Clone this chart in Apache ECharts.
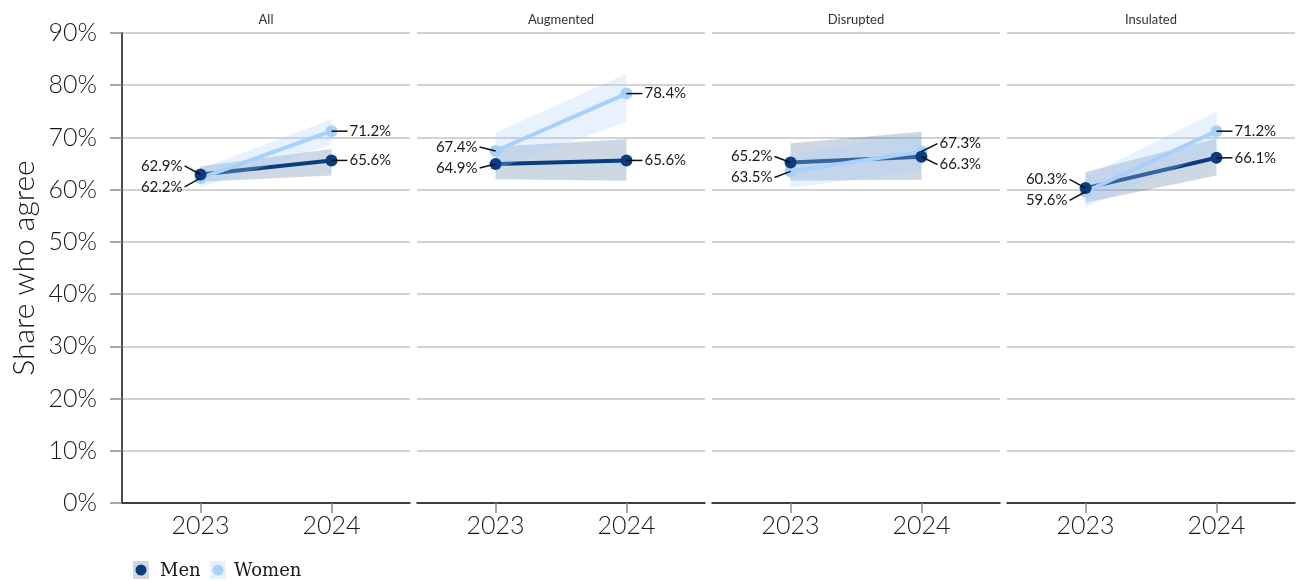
<!DOCTYPE html>
<html>
<head>
<meta charset="utf-8">
<title>Share who agree</title>
<script src="https://cdn.jsdelivr.net/npm/echarts@6/dist/echarts.min.js"></script>
<style>
  html, body { margin: 0; padding: 0; background: #fff; }
  #chart { width: 1296px; height: 581px; }
</style>
</head>
<body>
<div id="chart"></div>
<script>
// Panels and x categories
const categories = ['All', 'Augmented', 'Disrupted', 'Insulated'];
const years = ['2023', '2024'];

// Share who agree (%), one [2023, 2024] pair per panel
const menValues   = [[62.9, 65.6], [64.9, 65.6], [65.2, 66.3], [60.3, 66.1]];
const womenValues = [[62.2, 71.2], [67.4, 78.4], [63.5, 67.3], [59.6, 71.2]];

// Confidence bands, [2023, 2024] per panel
const menLow    = [[61.5, 62.7], [62.0, 61.7], [61.7, 61.9], [57.5, 62.7]];
const menHigh   = [[64.5, 67.8], [68.2, 69.7], [68.9, 71.1], [63.4, 69.8]];
const womenLow  = [[60.4, 68.6], [63.9, 73.0], [60.3, 63.7], [56.7, 67.5]];
const womenHigh = [[64.0, 73.5], [70.9, 82.2], [66.7, 70.9], [62.5, 74.9]];

// y axis ticks
const yMin = 0, yMax = 90, yStep = 10;

const MEN = '#0b3d7e';
const WOMEN = '#a7d0fb';
const MEN_BAND = 'rgba(11,61,126,0.2)';
const WOMEN_BAND = 'rgba(167,208,251,0.27)';
const FONT = 'Lato, "Open Sans", sans-serif';

const panelLeft = [122, 417, 712, 1007];
const panelWidth = 288;
const panelTop = 33;
const panelHeight = 470;

const chart = echarts.init(document.getElementById('chart'), null, { renderer: 'canvas' });

const grid = [], xAxis = [], yAxis = [], series = [], graphic = [];

function bandSeries(i, lo, hi, color, z) {
  return {
    type: 'custom',
    xAxisIndex: i, yAxisIndex: i,
    z: z, silent: true,
    data: [[1, lo[i][0], hi[i][0], 2, lo[i][1], hi[i][1]]],
    encode: { x: 0, y: 1 },
    renderItem(params, api) {
      const a = api.coord([api.value(0), api.value(1)]);
      const b = api.coord([api.value(0), api.value(2)]);
      const c = api.coord([api.value(3), api.value(5)]);
      const d = api.coord([api.value(3), api.value(4)]);
      return { type: 'polygon', shape: { points: [a, b, c, d] }, style: { fill: color } };
    }
  };
}

function lineSeries(i, vals, color, z) {
  return {
    type: 'line', xAxisIndex: i, yAxisIndex: i, z: z, silent: true,
    showSymbol: false, symbol: 'none',
    data: [[1, vals[i][0]], [2, vals[i][1]]],
    lineStyle: { color: color, width: 4 }
  };
}

function pointSeries(i, vals, color, z) {
  return {
    type: 'scatter', xAxisIndex: i, yAxisIndex: i, z: z, silent: true,
    symbolSize: 12,
    data: [[1, vals[i][0]], [2, vals[i][1]]],
    itemStyle: { color: color, opacity: 1 }
  };
}

// value labels with leader lines; close pairs are spread apart vertically
function labelSeries(i) {
  return {
    type: 'custom', xAxisIndex: i, yAxisIndex: i, z: 20, silent: true,
    data: [[1, menValues[i][0], womenValues[i][0]], [2, menValues[i][1], womenValues[i][1]]],
    encode: { x: 0, y: 1 },
    renderItem(params, api) {
      const xv = api.value(0);
      const mv = api.value(1), wv = api.value(2);
      const m = api.coord([xv, mv]);
      const w = api.coord([xv, wv]);
      const dir = xv < 1.5 ? -1 : 1;
      let my = m[1], wy = w[1];
      if (Math.abs(m[1] - w[1]) < 22) {
        const mid = (m[1] + w[1]) / 2;
        const menUp = m[1] <= w[1];
        my = mid + (menUp ? -10.5 : 10.5);
        wy = mid + (menUp ? 10.5 : -10.5);
      }
      const children = [];
      [[m, my, mv], [w, wy, wv]].forEach(([p, ly, v]) => {
        children.push({
          type: 'line',
          shape: { x1: p[0], y1: p[1], x2: p[0] + dir * 16, y2: ly },
          style: { stroke: '#111', lineWidth: 1.5 }
        });
        children.push({
          type: 'text',
          x: p[0] + dir * 18, y: ly,
          style: {
            text: v.toFixed(1) + '%',
            font: '15px ' + FONT,
            fill: '#1a1a1a',
            textAlign: dir < 0 ? 'right' : 'left',
            textVerticalAlign: 'middle'
          }
        });
      });
      return { type: 'group', children: children };
    }
  };
}

categories.forEach((name, i) => {
  grid.push({ left: panelLeft[i], top: panelTop, width: panelWidth, height: panelHeight, containLabel: false });
  xAxis.push({
    type: 'value', gridIndex: i, min: 0.4, max: 2.6,
    splitLine: { show: false },
    axisLine: { show: true, lineStyle: { color: '#111', width: 1.5 } },
    axisTick: { show: true, customValues: [1, 2], length: 10, lineStyle: { color: '#8a8a8a', width: 1.5 } },
    axisLabel: {
      show: true, customValues: [1, 2], margin: 10,
      formatter: v => years[Math.round(v) - 1] || '',
      fontSize: 25, fontWeight: 300, fontFamily: FONT, color: '#1a1a1a'
    }
  });
  yAxis.push({
    type: 'value', gridIndex: i, min: yMin, max: yMax, interval: yStep,
    axisLine: { show: i === 0, lineStyle: { color: '#111', width: 1.5 } },
    axisTick: { show: i === 0, length: 12, lineStyle: { color: '#8a8a8a', width: 1.5 } },
    axisLabel: {
      show: i === 0, margin: 25,
      formatter: '{value}%', fontSize: 25, fontWeight: 300, fontFamily: FONT, color: '#1a1a1a'
    },
    splitLine: { show: true, lineStyle: { color: '#c4c4c4', width: 1.5 } }
  });

  series.push(bandSeries(i, menLow, menHigh, MEN_BAND, 2));
  series.push(lineSeries(i, menValues, MEN, 3));
  series.push(bandSeries(i, womenLow, womenHigh, WOMEN_BAND, 4));
  series.push(lineSeries(i, womenValues, WOMEN, 5));
  series.push(pointSeries(i, womenValues, WOMEN, 6));
  series.push(pointSeries(i, menValues, MEN, 7));
  series.push(labelSeries(i));

  graphic.push({
    type: 'text', x: panelLeft[i] + panelWidth / 2, y: 20,
    style: { text: name, font: '13px ' + FONT, fill: '#333', textAlign: 'center', textVerticalAlign: 'middle' }
  });
});

// y axis title
graphic.push({
  type: 'text', x: 24, y: 268, rotation: Math.PI / 2,
  style: { text: 'Share who agree', font: '300 30px ' + FONT, fill: '#1a1a1a', textAlign: 'center', textVerticalAlign: 'middle' }
});

// legend keys
const legendItems = [
  { label: 'Men', color: MEN, band: MEN_BAND, x: 133, tx: 160 },
  { label: 'Women', color: WOMEN, band: WOMEN_BAND, x: 210, tx: 234 }
];
legendItems.forEach(it => {
  graphic.push({ type: 'rect', shape: { x: it.x, y: 561, width: 16, height: 18 }, style: { fill: it.band } });
  graphic.push({ type: 'circle', shape: { cx: it.x + 8, cy: 570, r: 5.5 }, style: { fill: it.color } });
  graphic.push({
    type: 'text', x: it.tx, y: 571,
    style: { text: it.label, font: '18px "DejaVu Serif", serif', fill: '#1a1a1a', textVerticalAlign: 'middle' }
  });
});

chart.setOption({
  animation: false,
  backgroundColor: '#fff',
  grid, xAxis, yAxis, series, graphic
});
</script>
</body>
</html>
